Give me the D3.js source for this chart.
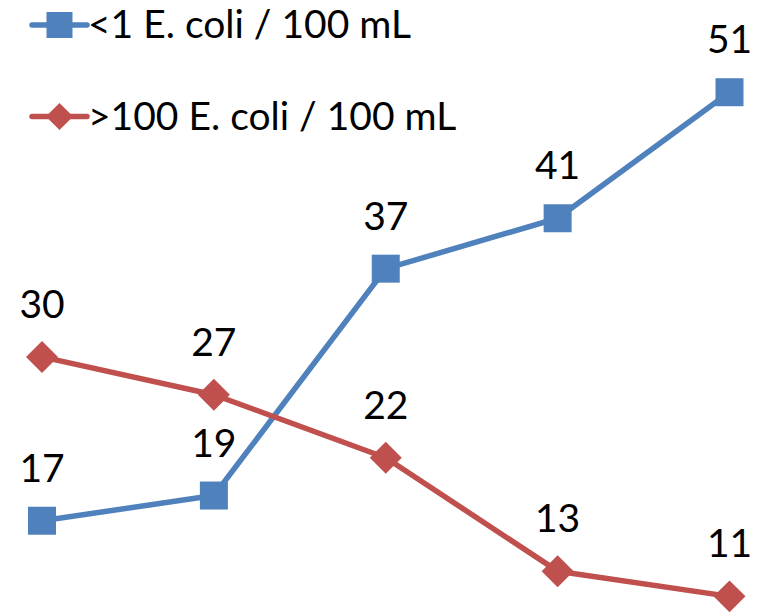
<!DOCTYPE html>
<html>
<head>
<meta charset="utf-8">
<script src="https://cdn.jsdelivr.net/npm/d3@7"></script>
<style>
  html, body { margin: 0; padding: 0; background: #ffffff; }
  svg { display: block; }
  text { font-family: Lato, "Open Sans", "Liberation Sans", sans-serif; fill: #000; }
</style>
</head>
<body>
<svg id="chart" width="769" height="616"></svg>
<script>
// Sampling periods (not labelled on the chart)
const categories = ["1", "2", "3", "4", "5"];

// Percentage of samples per E. coli band
const lowCount = [17, 19, 37, 41, 51];   // <1 E. coli / 100 mL
const highCount = [30, 27, 22, 13, 11];  // >100 E. coli / 100 mL

const seriesNames = ["<1 E. coli / 100 mL", ">100 E. coli / 100 mL"];
const seriesColors = ["#4F81BD", "#C0504D"];

const svg = d3.select("#chart");

const x = d3.scalePoint().domain(categories).range([42, 729.5]);
const y = d3.scaleLinear().domain([0, 58]).range([735, 4]);

const series = [
  { name: seriesNames[0], values: lowCount, color: seriesColors[0], shape: "square" },
  { name: seriesNames[1], values: highCount, color: seriesColors[1], shape: "diamond" }
];

const squarePath = d3.symbol().type(d3.symbolSquare).size(28 * 28)();
const diamondPath = d3.symbol().type(d3.symbolSquare).size(22.6 * 22.6)();
const squareLegend = d3.symbol().type(d3.symbolSquare).size(26 * 26)();
const diamondLegend = d3.symbol().type(d3.symbolSquare).size(19.2 * 19.2)();

const line = d3.line()
  .x((d, i) => x(categories[i]))
  .y(d => y(d));

series.forEach(s => {
  const g = svg.append("g");
  g.append("path")
    .attr("d", line(s.values))
    .attr("fill", "none")
    .attr("stroke", s.color)
    .attr("stroke-width", 5.5)
    .attr("stroke-linejoin", "round");

  g.selectAll("path.marker")
    .data(s.values)
    .join("path")
    .attr("class", "marker")
    .attr("d", s.shape === "square" ? squarePath : diamondPath)
    .attr("fill", s.color)
    .attr("transform", (d, i) =>
      `translate(${x(categories[i])},${y(d)})` + (s.shape === "diamond" ? " rotate(45)" : ""));

  g.selectAll("text.value")
    .data(s.values)
    .join("text")
    .attr("class", "value")
    .attr("x", (d, i) => x(categories[i]))
    .attr("y", d => y(d) - 39)
    .attr("text-anchor", "middle")
    .style("font-size", "39px")
    .text(d => d);
});

// Legend
const legendRows = [25, 116.5];
series.forEach((s, i) => {
  const lg = svg.append("g").attr("transform", `translate(0,${legendRows[i]})`);
  lg.append("line")
    .attr("x1", 32).attr("x2", 87)
    .attr("y1", 0).attr("y2", 0)
    .attr("stroke", s.color)
    .attr("stroke-width", 5.5)
    .attr("stroke-linecap", "round");
  lg.append("path")
    .attr("d", s.shape === "square" ? squareLegend : diamondLegend)
    .attr("fill", s.color)
    .attr("transform", `translate(59.5,0)` + (s.shape === "diamond" ? " rotate(45)" : ""));
  lg.append("text")
    .attr("x", 88)
    .attr("y", 13.3)
    .style("font-size", "39px")
    .text(s.name);
});
</script>
</body>
</html>
